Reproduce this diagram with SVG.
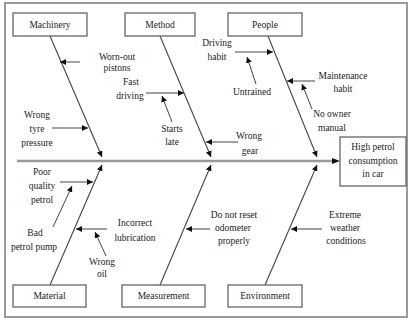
<svg xmlns="http://www.w3.org/2000/svg" width="409" height="321" viewBox="0 0 409 321">
<style>
.frame{fill:#fff;stroke:#9a9a9a;stroke-width:2}
.box{fill:#fff;stroke:#666;stroke-width:1.3}
.bone{stroke:#444;stroke-width:1.1;fill:none;marker-end:url(#ah)}
.spine{stroke:#9a9a9a;stroke-width:2.5;fill:none}
.cause{stroke:#444;stroke-width:1;fill:none;marker-end:url(#ah)}
text{font-family:"Liberation Serif","DejaVu Serif",serif;font-size:9.5px;fill:#222;text-anchor:middle}
</style>
<defs>
<marker id="ah" markerUnits="userSpaceOnUse" markerWidth="7" markerHeight="6" refX="6" refY="3" orient="auto">
<path d="M0,0 L6,3 L0,6 Z" fill="#111"/>
</marker>
</defs>
<rect class="frame" x="5" y="3" width="402" height="314"/>
<g id="connectors">
<line class="spine" x1="17" y1="161" x2="334" y2="161"/>
<path d="M332,158 L340,161 L332,164 Z" fill="#111"/>
<line class="bone" x1="50" y1="36" x2="102" y2="157"/>
<line class="bone" x1="160" y1="36" x2="211" y2="157"/>
<line class="bone" x1="268" y1="36" x2="317" y2="157"/>
<line class="bone" x1="50" y1="285" x2="102" y2="165"/>
<line class="bone" x1="160" y1="285" x2="211" y2="165"/>
<line class="bone" x1="265" y1="285" x2="317" y2="165"/>
<line class="cause" x1="80" y1="62" x2="60" y2="62"/>
<line class="cause" x1="146" y1="93" x2="184" y2="93"/>
<line class="cause" x1="172" y1="122" x2="162" y2="96"/>
<line class="cause" x1="238" y1="142" x2="206" y2="142"/>
<line class="cause" x1="235" y1="52" x2="273" y2="52"/>
<line class="cause" x1="256" y1="84" x2="247" y2="57"/>
<line class="cause" x1="315" y1="81" x2="287" y2="81"/>
<line class="cause" x1="312" y1="109" x2="302" y2="84"/>
<line class="cause" x1="52" y1="128" x2="88" y2="128"/>
<line class="cause" x1="60" y1="182" x2="93" y2="182"/>
<line class="cause" x1="53" y1="227" x2="72" y2="186"/>
<line class="cause" x1="107" y1="229" x2="76" y2="229"/>
<line class="cause" x1="106" y1="256" x2="95" y2="232"/>
<line class="cause" x1="210" y1="229" x2="186" y2="229"/>
<line class="cause" x1="322" y1="229" x2="291" y2="229"/>
</g>
<g id="machinery"><rect class="box" x="13" y="13" width="74" height="23"/><text x="50" y="28">Machinery</text></g>
<g id="method"><rect class="box" x="125" y="13" width="70" height="23"/><text x="160" y="28">Method</text></g>
<g id="people"><rect class="box" x="228" y="13" width="74" height="23"/><text x="265" y="28">People</text></g>
<g id="material"><rect class="box" x="13" y="285" width="73" height="22"/><text x="49.5" y="299">Material</text></g>
<g id="measurement"><rect class="box" x="122" y="285" width="83" height="22"/><text x="163.5" y="299">Measurement</text></g>
<g id="environment"><rect class="box" x="228" y="285" width="74" height="22"/><text x="265" y="299">Environment</text></g>
<g id="effect"><rect class="box" x="340" y="137" width="66" height="49" stroke-width="2"/><text x="373" y="150">High petrol</text><text x="373" y="164">consumption</text><text x="373" y="177">in car</text></g>
<g id="labels">
<text x="117" y="60">Worn-out</text><text x="117" y="71">pistons</text>
<text x="131" y="85">Fast</text><text x="130" y="99">driving</text>
<text x="172" y="132">Starts</text><text x="172" y="145">late</text>
<text x="249" y="139">Wrong</text><text x="250" y="154">gear</text>
<text x="217" y="46">Driving</text><text x="217" y="60">habit</text>
<text x="252" y="95">Untrained</text>
<text x="343" y="79">Maintenance</text><text x="343" y="92">habit</text>
<text x="332" y="117">No owner</text><text x="332" y="131">manual</text>
<text x="37" y="118">Wrong</text><text x="37" y="132">tyre</text><text x="37" y="146">pressure</text>
<text x="42" y="175">Poor</text><text x="42" y="189">quality</text><text x="42" y="203">petrol</text>
<text x="35" y="236">Bad</text><text x="34" y="250">petrol pump</text>
<text x="135" y="226">Incorrect</text><text x="135" y="241">lubrication</text>
<text x="102" y="265">Wrong</text><text x="102" y="277">oil</text>
<text x="234" y="218">Do not reset</text><text x="233" y="231">odometer</text><text x="234" y="244">properly</text>
<text x="345" y="218">Extreme</text><text x="345" y="231">weather</text><text x="346" y="244">conditions</text>
</g>
</svg>
